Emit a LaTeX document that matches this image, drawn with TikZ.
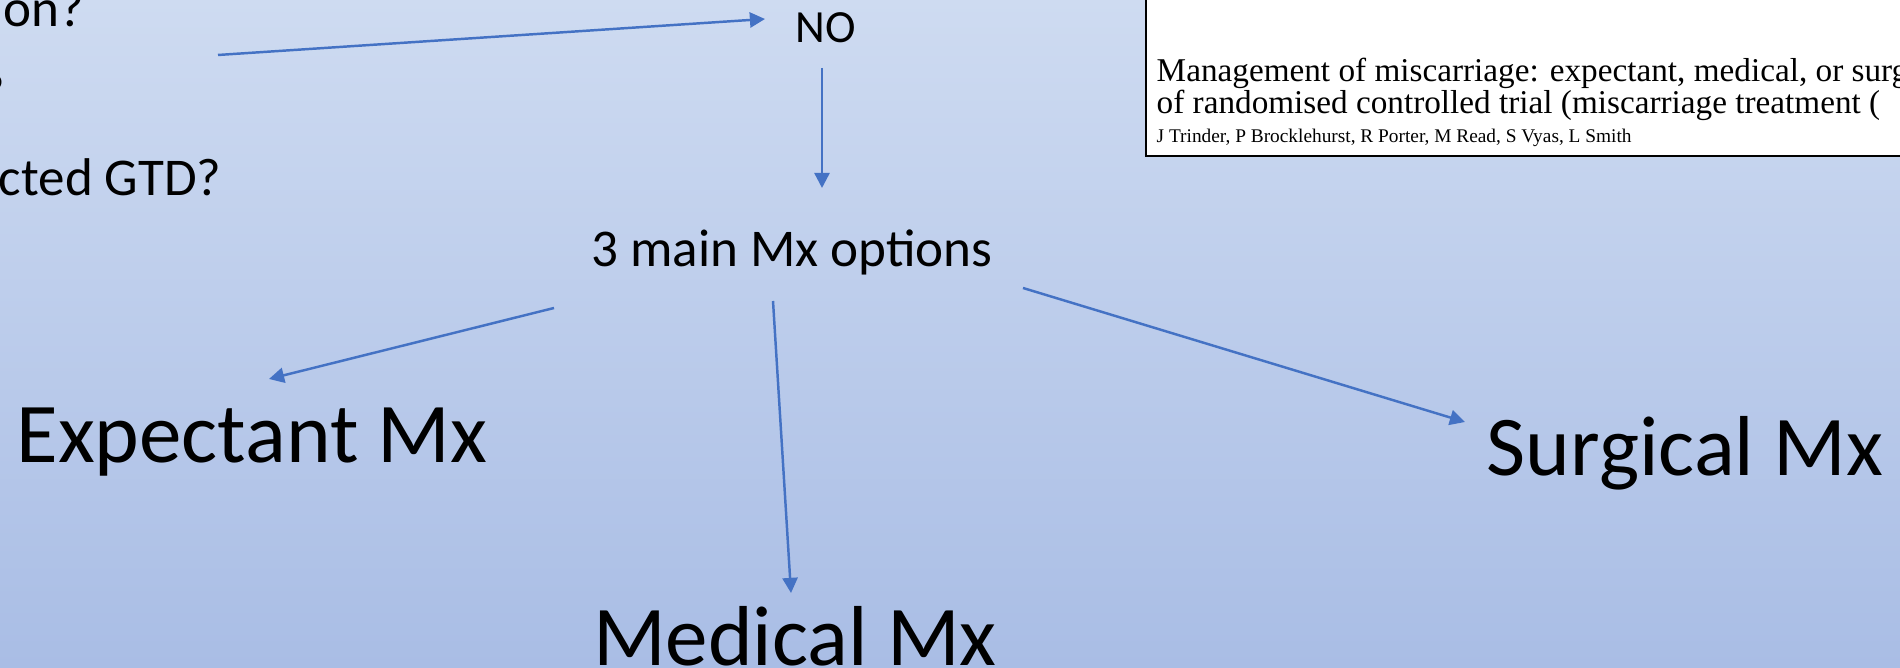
\documentclass[tikz,border=0pt]{standalone}
\usepackage{fontspec}
\newfontfamily\calibri{Carlito}
\newfontfamily\papertimes{Liberation Serif}
\usetikzlibrary{arrows.meta}
\definecolor{bgtop}{RGB}{206,219,241}
\definecolor{bgbottom}{RGB}{169,189,229}
\definecolor{arrowblue}{RGB}{68,114,196}
\tikzset{%
  slide text/.style={
    inner sep=0pt,
    anchor=base,
    font=\calibri\fontsize{15.1}{18}\selectfont
  },
  small text/.style={
    font=\calibri\fontsize{13.1}{16}\selectfont
  },
  big option/.style={
    font=\calibri\fontsize{24.2}{29}\selectfont
  },
  paper box/.style={
    draw=black,
    fill=white,
    line width=0.6pt
  },
  paper text/.style={
    inner sep=0pt,
    anchor=base west,
    font=\papertimes\fontsize{9.45}{11}\selectfont
  },
  flow arrow/.style={
    ->,
    draw=arrowblue,
    line width=0.7pt
  },
}

\begin{document}
\begin{tikzpicture}[x=0.01cm, y=-0.01cm, >={Triangle[length=4.3pt, width=4.3pt]}]
        \useasboundingbox (0,0) rectangle (1900,668);
        \shade [top color=bgtop, bottom color=bgbottom] (0,0) rectangle (1900,668);

        %%%%%%%%%%%%%%%%%%%%%%%%%%%%%%%%%%%%%%%%%%%%
        % Questions (cut by the left edge)
        %%%%%%%%%%%%%%%%%%%%%%%%%%%%%%%%%%%%%%%%%%%%
        \foreach \t/\x/\y [count=\i] in {ion?/85/27, ?/6/111, cted GTD?/222/196}
            \node [slide text, anchor=base east] (question-\i) at (\x,\y) {\t};
        \coordinate (question-out) at (218,55);

        %%%%%%%%%%%%%%%%%%%%%%%%%%%%%%%%%%%%%%%%%%%%
        % Answer and options
        %%%%%%%%%%%%%%%%%%%%%%%%%%%%%%%%%%%%%%%%%%%%
        \node [slide text, small text] (no) at (826,43) {NO};
        \node [slide text] (opts) at (792,267) {3 main Mx options};

        \foreach \n/\x/\y/\t in {exp/252/463/Expectant Mx, med/795/666/Medical Mx, surg/1685/476/Surgical Mx}
            \node [slide text, big option] (\n) at (\x,\y) {\t};

        %%%%%%%%%%%%%%%%%%%%%%%%%%%%%%%%%%%%%%%%%%%%
        % Paper
        %%%%%%%%%%%%%%%%%%%%%%%%%%%%%%%%%%%%%%%%%%%%
        \draw [paper box] (1146,-10) rectangle (1910,156);
        \foreach \t/\y [count=\i] in {{Management of miscarriage: expectant, medical, or surg}/82,
                                     {of randomised controlled trial (miscarriage treatment (}/114}
            \node [paper text] (paper-\i) at (1156,\y) {\t};
        \node [paper text, font=\papertimes\fontsize{5.5}{6.5}\selectfont] (authors) at (1156,143)
            {J Trinder, P Brocklehurst, R Porter, M Read, S Vyas, L Smith};

        %%%%%%%%%%%%%%%%%%%%%%%%%%%%%%%%%%%%%%%%%%%%
        % Connecting
        %%%%%%%%%%%%%%%%%%%%%%%%%%%%%%%%%%%%%%%%%%%%
        \draw [flow arrow] (question-out) -- ([shift={(-61,-24)}]no.base);
        \draw [flow arrow] ([shift={(-4,25)}]no.base) -- ([shift={(30,-79)}]opts.base);

        % Options to the three kinds of Mx
        \foreach \n/\s/\e in {exp/{-238,41}/{17,-84}, med/{-19,34}/{-4,-73}, surg/{231,21}/{-220,-54}}
            \draw [flow arrow] ([shift={(\s)}]opts.base) -- ([shift={(\e)}]\n.base);
    \end{tikzpicture}
\end{document}
